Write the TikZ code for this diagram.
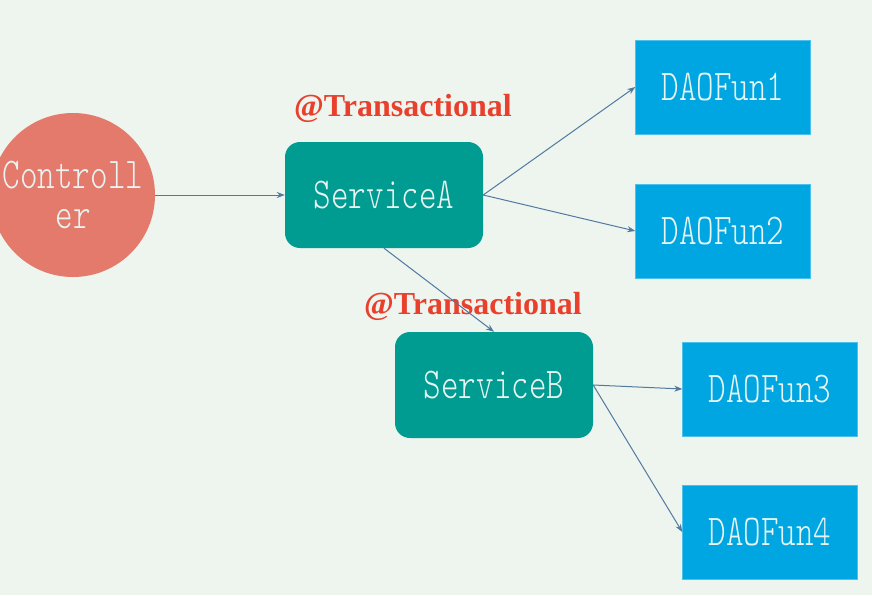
\documentclass[tikz,border=0pt]{standalone}
\usepackage{fontspec}
\usepackage{xcolor}
\usetikzlibrary{positioning, arrows.meta, shapes.geometric}

\newfontfamily\diagmono[FakeStretch=0.76]{lmmonolt10-regular.otf}
\newfontfamily\txserif{Liberation Serif}

\definecolor{bgmint}{RGB}{238,244,238}
\definecolor{ctrlred}{RGB}{228,122,108}
\definecolor{svcteal}{RGB}{0,155,145}
\definecolor{daoblue}{RGB}{0,166,226}
\definecolor{linkblue}{RGB}{80,122,160}
\definecolor{txred}{RGB}{232,64,44}
\definecolor{boxtext}{RGB}{232,244,242}

\begin{document}
\begin{tikzpicture}[
    x=1pt, y=-1pt,
    ctrl/.style={circle, fill=ctrlred, minimum size=164pt, inner sep=0pt, align=center,
                 font=\diagmono\fontsize{44}{40}\selectfont, text=boxtext},
    svc/.style={rectangle, rounded corners=15pt, fill=svcteal, minimum width=198pt, minimum height=106pt,
                font=\diagmono\fontsize{44}{40}\selectfont, text=boxtext},
    dao/.style={rectangle, fill=daoblue, draw=daoblue!70!white, minimum width=175pt, minimum height=94pt,
                font=\diagmono\fontsize{44}{40}\selectfont, text=boxtext},
    tx/.style={font=\txserif\bfseries\fontsize{32}{32}\selectfont, text=txred},
    arr/.style={-{Stealth[length=8pt, width=6pt]}, line width=1pt, draw=linkblue},
]

% === Canvas ===
\useasboundingbox (0,0) rectangle (872,595);
\fill[bgmint] (0,0) rectangle (872,595);

% === Controller ===
\node[ctrl] (ctrl) at (73,195) {Controll\\er};

% === Services ===
\node[svc] (svcA) at (384,195) {ServiceA};
\node[svc] (svcB) at (494,385) {ServiceB};
\node[tx] (txA) at (403,108) {@Transactional};
\node[tx] (txB) at (473,306) {@Transactional};

% === DAO functions ===
\node[dao] (dao1) at (723,87) {DAOFun1};
\node[dao] (dao2) at (723,231) {DAOFun2};
\node[dao] (dao3) at (770,389) {DAOFun3};
\node[dao] (dao4) at (770,532) {DAOFun4};

% === Calls ===
\draw[arr] (ctrl.east) -- (svcA.west);
\draw[arr] (svcA.east) -- (dao1.west);
\draw[arr] (svcA.east) -- (dao2.west);
\draw[arr] (svcA.south) -- (svcB.north);
\draw[arr] (svcB.east) -- (dao3.west);
\draw[arr] (svcB.east) -- (dao4.west);

\end{tikzpicture}
\end{document}
